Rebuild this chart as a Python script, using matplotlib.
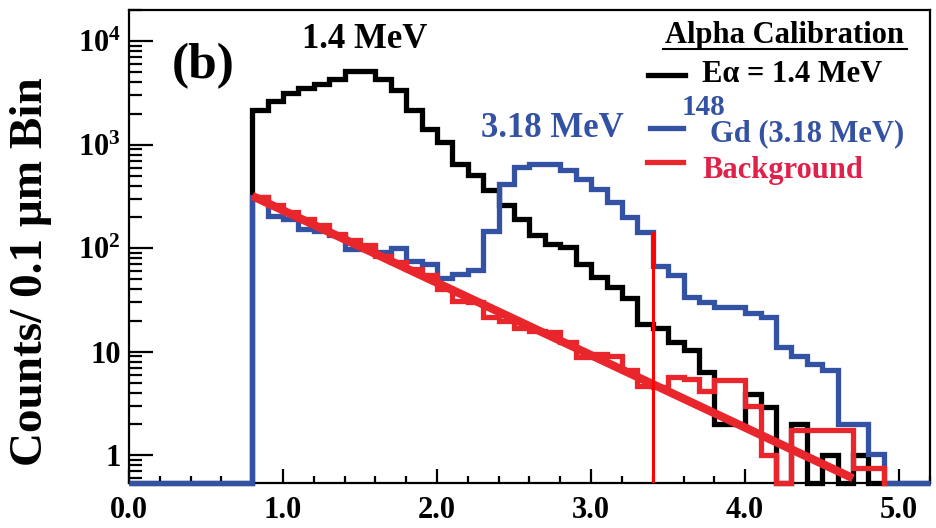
import numpy as np
import matplotlib
matplotlib.use('Agg')
import matplotlib.pyplot as plt
from matplotlib.lines import Line2D
from matplotlib.ticker import FixedLocator, FixedFormatter, MultipleLocator, LogLocator, NullFormatter, FormatStrFormatter

plt.rcParams['font.family'] = 'Liberation Serif'
plt.rcParams['font.weight'] = 'bold'
plt.rcParams['mathtext.fontset'] = 'custom'
plt.rcParams['mathtext.rm'] = 'Liberation Serif:bold'
plt.rcParams['mathtext.it'] = 'Liberation Serif:bold'
plt.rcParams['mathtext.bf'] = 'Liberation Serif:bold'

# counts per 0.1 bin, first bin starts at 0.8
first_bin = 0.8
bin_width = 0.1
alpha_counts = [2140, 2670, 3140, 3540, 3870, 4330, 5200, 5200, 4330, 3340,
                2170, 1420, 1056, 650, 505, 365, 260, 193, 133, 110,
                102, 71, 53, 42, 33, 18.7, 17, 12.4, 10.5, 6.4,
                2, 2, 3.9, 2.9, 0, 2, 0, 1, 0, 1, 0]
gd_counts = [315, 205, 192, 155, 148, 133, 99, 102, 92, 100,
             76, 70, 52, 56, 61, 148, 420, 605, 654, 645,
             565, 468, 376, 278, 200, 143, 68, 55, 34, 30,
             27, 27, 23.5, 21.6, 11, 9.2, 7.7, 6.6, 2, 2, 1.04]
bkg_counts = [311, 259, 224, 193, 166, 138, 119, 107, 85, 73,
              63, 55, 40, 31, 30, 21.7, 20, 16.8, 16, 15.5,
              12.4, 8.9, 9.6, 9.2, 6.6, 4.7, 4.6, 5.7, 5.5, 4.2,
              5.3, 5.3, 3.0, 1.0, 0, 1.74, 1.74, 1.74, 1.74, 0.75, 0.75]

# exponential background fit (end points)
fit_x = [0.8, 4.7]
fit_y = [320, 0.6]

# cut position
cut_x = 3.4
cut_top = 140

xmin, xmax = 0.0, 5.2
ymin, ymax = 0.54, 2.0e4

blue = '#3452a4'
red = '#e8262c'

edges = np.round(np.arange(xmin, xmax + bin_width / 2, bin_width), 2)
n_before = int(round((first_bin - xmin) / bin_width))


def full_hist(counts):
    vals = np.zeros(len(edges) - 1)
    vals[n_before:n_before + len(counts)] = counts
    # empty bins sit on the lower edge, like ROOT does on a log axis
    vals[vals <= 0] = ymin
    return vals


fig = plt.figure(figsize=(9.37, 5.28), dpi=100)
W, H = 937.0, 528.0
ax = fig.add_axes([129 / W, 45 / H, 801 / W, 473 / H])


def px(x, y):
    return x / W, 1 - y / H


ax.stairs(full_hist(alpha_counts), edges, color='black', lw=3.8, baseline=None,
          clip_on=False, zorder=2, joinstyle='miter')
ax.stairs(full_hist(gd_counts), edges, color=blue, lw=3.8, baseline=None,
          clip_on=False, zorder=3, joinstyle='miter')

# background only over its own range, no rise at the first edge
bkg = np.array(bkg_counts, dtype=float)
bkg[bkg <= 0] = ymin
bkg_edges = edges[n_before:n_before + len(bkg) + 1]
ax.stairs(bkg, bkg_edges, color=red, lw=3.8, baseline=None,
          clip_on=False, zorder=4, joinstyle='miter')
ax.plot([bkg_edges[-1]] * 2, [bkg[-1], ymin], color=red, lw=3.8, zorder=4, clip_on=False)

ax.plot(fit_x, fit_y, color=red, lw=6, zorder=5, solid_capstyle='butt')
ax.plot([cut_x, cut_x], [ymin, cut_top], color='#ff0000', lw=2.2, zorder=6)

ax.set_xlim(xmin, xmax)
ax.set_yscale('log')
ax.set_ylim(ymin, ymax)

ax.xaxis.set_major_locator(MultipleLocator(1.0))
ax.xaxis.set_minor_locator(MultipleLocator(0.2))
ax.xaxis.set_major_formatter(FormatStrFormatter('%.1f'))
ax.yaxis.set_major_locator(FixedLocator([1, 10, 100, 1000, 10000]))
ax.yaxis.set_major_formatter(FixedFormatter(['1', '10', '$10^{2}$', '$10^{3}$', '$10^{4}$']))
ax.yaxis.set_minor_locator(LogLocator(base=10, subs=np.arange(2, 10)))
ax.yaxis.set_minor_formatter(NullFormatter())

ax.tick_params(axis='y', which='major', direction='in', length=17, width=1.6,
               labelsize=22, pad=6, right=False)
ax.tick_params(axis='y', which='minor', direction='in', length=9, width=1.6, right=False)
ax.tick_params(axis='x', which='major', direction='in', length=10, width=1.6,
               labelsize=22, pad=9, top=False)
ax.tick_params(axis='x', which='minor', direction='in', length=5, width=1.6, top=False)
for sp in ax.spines.values():
    sp.set_linewidth(1.6)

fig.text(0.033, 1 - 272 / H, 'Counts/ 0.1 \u03bcm Bin', rotation=90, fontsize=34,
         ha='center', va='center')

fig.text(*px(203, 78), '(b)', fontsize=37, ha='center', va='baseline')
fig.text(*px(365, 48), '1.4 MeV', fontsize=25, ha='center', va='baseline')
fig.text(*px(552, 136.7), '3.18 MeV', fontsize=25, ha='center', va='baseline', color=blue)

# legend box drawn by hand
fig.text(*px(785, 43.3), 'Alpha Calibration', fontsize=22, ha='center', va='baseline')
fig.add_artist(Line2D([663 / W, 907 / W], [1 - 48.5 / H] * 2, color='black', lw=1.5))

fig.add_artist(Line2D([648 / W, 685 / W], [1 - 75 / H] * 2, color='black', lw=3.8))
fig.text(*px(702, 81.7), 'E\u03b1 = 1.4 MeV', fontsize=22, ha='left', va='baseline')

fig.add_artist(Line2D([650 / W, 683 / W], [1 - 128.3 / H] * 2, color=blue, lw=3.8))
fig.text(*px(682, 115), '148', fontsize=21, ha='left', va='baseline', color=blue)
fig.text(*px(710, 141.7), 'Gd (3.18 MeV)', fontsize=22, ha='left', va='baseline', color=blue)

fig.add_artist(Line2D([647 / W, 683 / W], [1 - 161.7 / H] * 2, color=red, lw=3.8))
fig.text(*px(702, 178.3), 'Background', fontsize=22, ha='left', va='baseline', color='#e0224a')

fig.savefig('out.png', dpi=100)
